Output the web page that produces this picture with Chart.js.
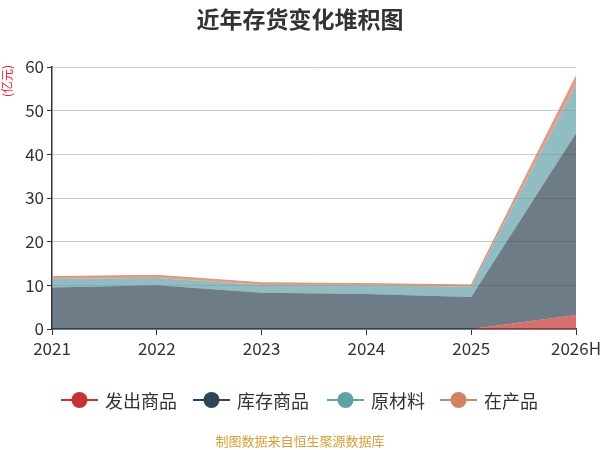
<!DOCTYPE html>
<html>
<head>
<meta charset="utf-8">
<script src="https://cdn.jsdelivr.net/npm/chart.js@4/dist/chart.umd.min.js"></script>
<style>
  html, body { margin: 0; padding: 0; background: #fff; }
  #wrap { width: 600px; height: 450px; position: relative; }
</style>
</head>
<body>
<div id="wrap"><canvas id="chart" width="600" height="450"></canvas></div>
<script>
const years = ["2021", "2022", "2023", "2024", "2025", "2026H"];

const shipped = [0, 0, 0, 0, 0, 3.2];        // 发出商品
const goods = [9.5, 10.0, 8.3, 8.0, 7.3, 41.6]; // 库存商品
const material = [2.0, 1.7, 1.8, 2.0, 2.4, 11.0]; // 原材料
const wip = [0.5, 0.6, 0.5, 0.4, 0.4, 2.1];     // 在产品

const seriesNames = ["发出商品", "库存商品", "原材料", "在产品"];
const seriesColors = ["#c23531", "#2f4554", "#61a0a8", "#d48265"];
const seriesFills = ["rgba(194,53,49,0.7)", "rgba(47,69,84,0.7)", "rgba(97,160,168,0.7)", "rgba(212,130,101,0.75)"];

const yTicks = [0, 10, 20, 30, 40, 50, 60];

const font = "'Noto Sans CJK SC', 'Noto Sans', sans-serif";

// title, unit label, legend and footer drawn on the canvas
const extras = {
    id: "extras",
    afterDraw(chart) {
        const ctx = chart.ctx;
        ctx.save();

        ctx.fillStyle = "#333";
        ctx.font = "bold 23px " + font;
        ctx.textAlign = "center";
        ctx.textBaseline = "middle";
        ctx.fillText("近年存货变化堆积图", 300, 19);

        ctx.save();
        ctx.translate(7, 81);
        ctx.rotate(-Math.PI / 2);
        ctx.fillStyle = "#e6262e";
        ctx.font = "12px " + font;
        ctx.fillText("(亿元)", 0, 0);
        ctx.restore();

        // legend: line with a dot, like the original
        const starts = [61, 193, 327, 440];
        const ly = 400;
        ctx.font = "18px " + font;
        ctx.textAlign = "left";
        seriesNames.forEach(function (name, i) {
            const x = starts[i];
            ctx.strokeStyle = seriesColors[i];
            ctx.lineWidth = 2;
            ctx.beginPath();
            ctx.moveTo(x, ly);
            ctx.lineTo(x + 37, ly);
            ctx.stroke();
            ctx.fillStyle = seriesColors[i];
            ctx.beginPath();
            ctx.arc(x + 18.5, ly, 8, 0, Math.PI * 2);
            ctx.fill();
            ctx.fillStyle = "#333";
            ctx.fillText(name, x + 44, ly + 1);
        });

        ctx.fillStyle = "#d4a03c";
        ctx.font = "13px " + font;
        ctx.textAlign = "center";
        ctx.fillText("制图数据来自恒生聚源数据库", 300, 441);

        ctx.restore();
    }
};

const stacks = [shipped, goods, material, wip];

const chart = new Chart(
    document.getElementById("chart"),
    {
        type: "line",
        data: {
            labels: years,
            datasets: stacks.map(function (values, i) {
                return {
                    label: seriesNames[i],
                    data: values,
                    borderColor: seriesFills[i],
                    backgroundColor: seriesFills[i],
                    borderWidth: i === 3 ? 1 : 0,
                    pointRadius: 0,
                    tension: 0,
                    fill: i === 0 ? "origin" : "-1"
                };
            })
        },
        options: {
            responsive: false,
            animation: false,
            layout: {
                padding: { left: 0, right: 24, top: 67, bottom: 90 }
            },
            plugins: {
                legend: { display: false },
                title: { display: false },
                tooltip: { enabled: false }
            },
            scales: {
                x: {
                    offset: false,
                    afterFit: function (scale) {
                        scale.height = 31;
                        scale.paddingLeft = 0;
                        scale.paddingRight = 0;
                    },
                    grid: {
                        drawOnChartArea: false,
                        tickColor: "#333",
                        tickLength: 6
                    },
                    border: { color: "#333", width: 1.5 },
                    ticks: {
                        color: "#333",
                        font: { size: 17, family: font },
                        maxRotation: 0,
                        padding: 3
                    }
                },
                y: {
                    stacked: true,
                    min: yTicks[0],
                    max: yTicks[yTicks.length - 1],
                    afterFit: function (scale) {
                        scale.width = 52;
                        scale.paddingTop = 0;
                        scale.paddingBottom = 0;
                    },
                    afterBuildTicks: function (scale) {
                        scale.ticks = yTicks.map(function (v) { return { value: v }; });
                    },
                    grid: {
                        color: "#cccccc",
                        tickColor: "#333",
                        tickLength: 5
                    },
                    border: { color: "#333", width: 1.5 },
                    ticks: {
                        color: "#333",
                        font: { size: 17, family: font },
                        padding: 3
                    }
                }
            }
        },
        plugins: [extras]
    }
);
</script>
</body>
</html>
